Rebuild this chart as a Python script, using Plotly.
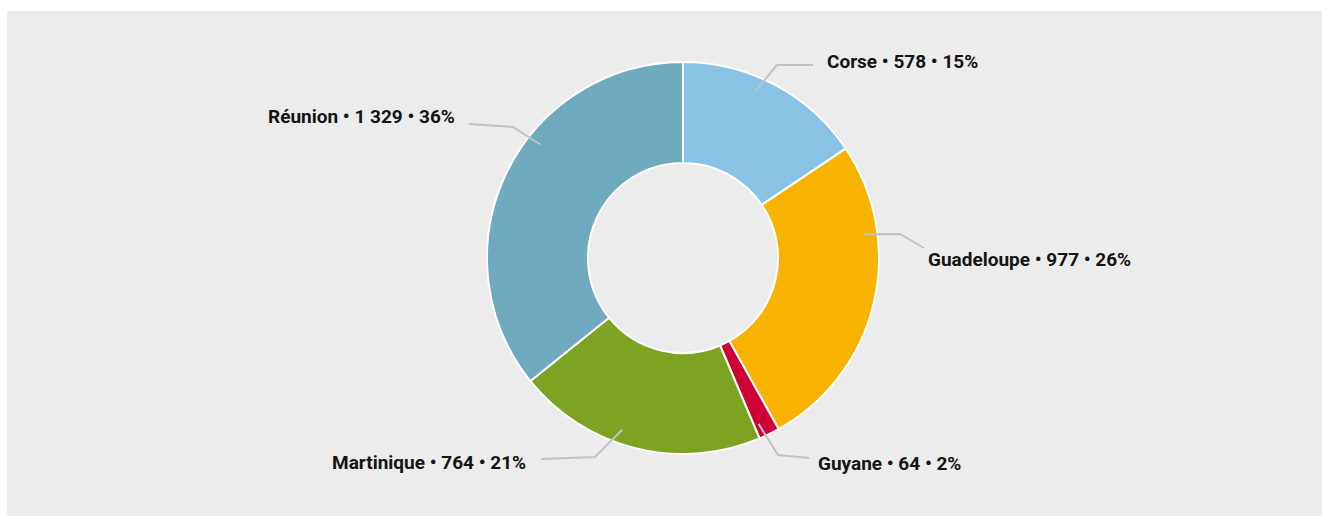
import math
import plotly.graph_objects as go

# Données
regions = ["Corse", "Guadeloupe", "Guyane", "Martinique", "Réunion"]
values = [578, 977, 64, 764, 1329]
pcts = [15, 26, 2, 21, 36]
colors = ["#88c3e6", "#f8b200", "#cf0035", "#7ea323", "#6faabe"]

W, H = 1322, 516
CX, CY, R = 683, 258, 196  # centre et rayon du donut (px)

# Placement des étiquettes (px) : angle d'accroche, coude, fin de trait, texte
label_layout = {
    "Corse":      dict(ang=23.5, elbow=(777, 65), end=(813, 65), text=(825, 62), anchor="left"),
    "Guadeloupe": dict(ang=82.5, elbow=(900, 234), end=(924, 248), text=(926, 259), anchor="left"),
    "Guyane":     dict(ang=155.5, elbow=(778, 455), end=(809, 458), text=(816, 463), anchor="left"),
    "Martinique": dict(ang=199.5, elbow=(595, 457), end=(541, 459), text=(528, 462), anchor="right"),
    "Réunion":    dict(ang=308.5, elbow=(513, 127), end=(469, 124), text=(457, 117), anchor="right"),
}


def px(x, y):
    return x / W, 1 - y / H


def fmt(v):
    return f"{v:,}".replace(",", " ")


fig = go.Figure()

fig.add_trace(go.Pie(
    labels=regions,
    values=values,
    sort=False,
    direction="clockwise",
    rotation=0,
    hole=0.485,
    marker=dict(colors=colors, line=dict(color="white", width=2)),
    textinfo="none",
    showlegend=False,
    domain=dict(x=[(CX - R) / W, (CX + R) / W], y=[1 - (CY + R) / H, 1 - (CY - R) / H]),
))

# fond gris
x0, y0 = px(7, 11)
fig.add_shape(type="rect", xref="paper", yref="paper", x0=x0, x1=1, y0=0, y1=y0,
              fillcolor="#ebeceb", line_width=0, layer="below")

for name, v, p in zip(regions, values, pcts):
    lay = label_layout[name]
    a = math.radians(lay["ang"])
    ax = CX + 0.93 * R * math.sin(a)
    ay = CY - 0.93 * R * math.cos(a)
    pts = [px(ax, ay), px(*lay["elbow"]), px(*lay["end"])]
    path = "M {} {} L {} {} L {} {}".format(*[c for pt in pts for c in pt])
    fig.add_shape(type="path", xref="paper", yref="paper", path=path,
                  line=dict(color="#c2c2c2", width=2))
    tx, ty = px(*lay["text"])
    fig.add_annotation(
        x=tx, y=ty, xref="paper", yref="paper",
        text=f"<b>{name} • {fmt(v)} • {p}%</b>",
        showarrow=False, xanchor=lay["anchor"], yanchor="middle",
        font=dict(family="Roboto, sans-serif", size=19, color="#141414"),
    )

fig.update_layout(
    width=W, height=H,
    margin=dict(l=0, r=0, t=0, b=0),
    paper_bgcolor="white",
    plot_bgcolor="white",
)

fig.write_html("out.html", config={"displayModeBar": False},
               post_script="document.body.style.margin='0';")
